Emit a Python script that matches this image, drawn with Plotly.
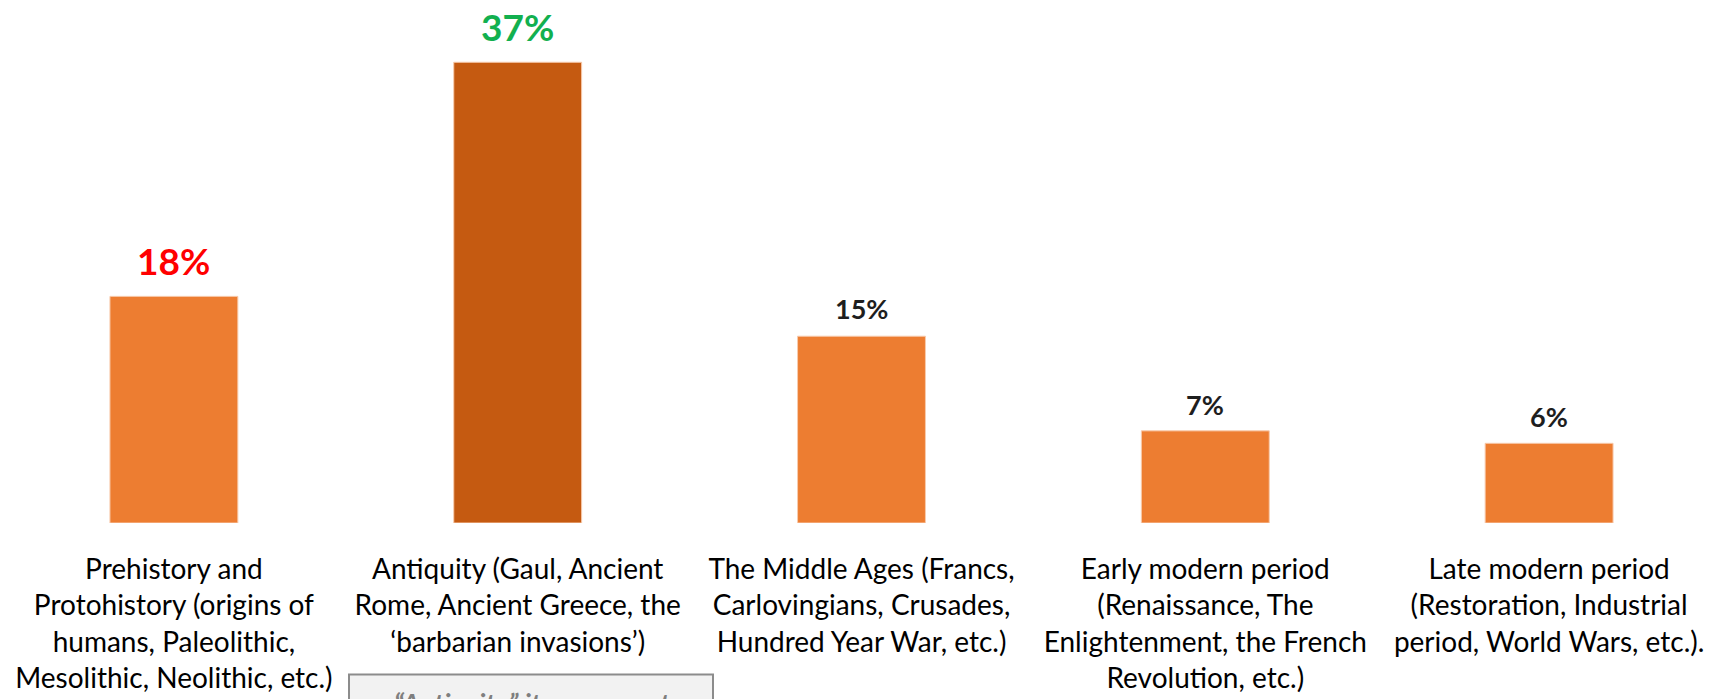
import plotly.graph_objects as go

categories = [
    "Prehistory and<br>Protohistory (origins of<br>humans, Paleolithic,<br>Mesolithic, Neolithic, etc.)",
    "Antiquity (Gaul, Ancient<br>Rome, Ancient Greece, the<br>‘barbarian invasions’)",
    "The Middle Ages (Francs,<br>Carlovingians, Crusades,<br>Hundred Year War, etc.)",
    "Early modern period<br>(Renaissance, The<br>Enlightenment, the French<br>Revolution, etc.)",
    "Late modern period<br>(Restoration, Industrial<br>period, World Wars, etc.).",
]
values = [18.2, 37.0, 15.0, 7.4, 6.4]
labels = ["18%", "37%", "15%", "7%", "6%"]
bar_colors = ["#ED7D31", "#C55A11", "#ED7D31", "#ED7D31", "#ED7D31"]
label_colors = ["#FF0000", "#12B04F", "#1E1E1E", "#1E1E1E", "#1E1E1E"]
label_sizes = [37, 37, 27, 27, 27]
label_shifts = [11, 11, 9, 8, 8]
note_text = "“Antiquity” item was not"

idx = list(range(len(categories)))

fig = go.Figure()
fig.add_trace(go.Bar(
    x=idx, y=values,
    marker=dict(color=bar_colors, line=dict(color="#F8CBAD", width=1)),
    width=0.372,
    hoverinfo="skip",
))

for i, v in enumerate(values):
    fig.add_annotation(
        x=i, y=v, text="<b>%s</b>" % labels[i], showarrow=False,
        yanchor="bottom", yshift=label_shifts[i],
        font=dict(family="Lato", size=label_sizes[i], color=label_colors[i]),
    )

fig.update_xaxes(
    tickvals=idx, ticktext=categories, range=[-0.5, 4.5],
    showline=False, showgrid=False, zeroline=False, ticks="",
    tickfont=dict(family="Lato", size=28, color="#000000"),
    ticklabelstandoff=27,
)
fig.update_yaxes(range=[0, 42], visible=False, showgrid=False, zeroline=False)

# note box below the chart
fig.add_shape(type="rect", xref="paper", yref="paper",
              x0=(349 - 2) / 1719, x1=(713 - 2) / 1719,
              y0=-0.5, y1=(523.3 - 675) / 523.3,
              line=dict(color="#8C8C8C", width=2), fillcolor="#F2F2F2", layer="above")
fig.add_annotation(xref="paper", yref="paper", x=(532 - 2) / 1719, y=(523.3 - 684) / 523.3,
                   xanchor="center", yanchor="top", showarrow=False,
                   text="<b><i>%s</i></b>" % note_text,
                   font=dict(family="Lato", size=27, color="#7F7F7F"))

fig.update_layout(
    width=1729, height=699,
    margin=dict(l=2, r=8, t=0, b=175.7),
    plot_bgcolor="white", paper_bgcolor="white",
    showlegend=False,
)

fig.write_html("out.html", config={"displayModeBar": False},
               post_script="document.body.style.margin='0';document.body.style.overflow='hidden';")
